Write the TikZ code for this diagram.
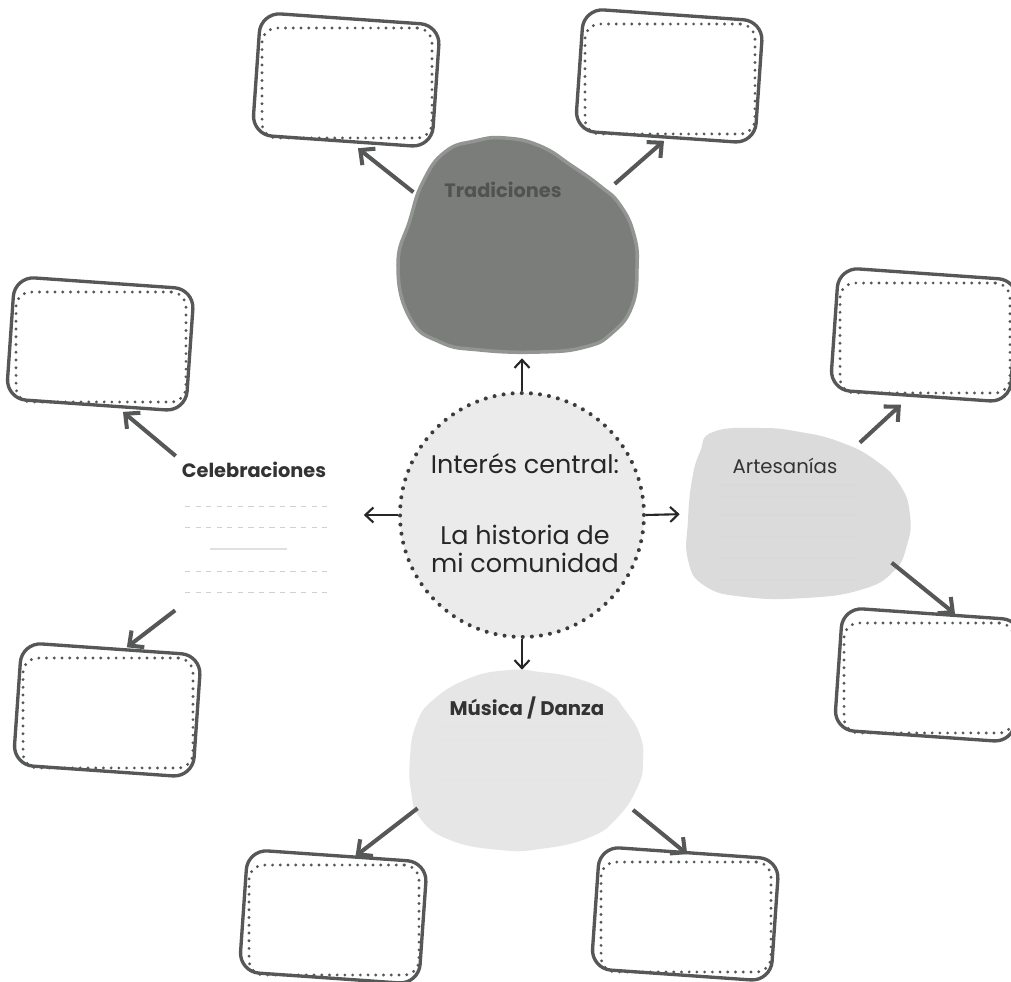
\documentclass[tikz,border=0pt]{standalone}
\usepackage{fontspec}
\setmainfont{Poppins}
\usetikzlibrary{arrows.meta,shapes.geometric}

\definecolor{tinta}{HTML}{555857}
\definecolor{puntos}{HTML}{3C3C3C}
\definecolor{roca}{HTML}{7B7D7B}
\definecolor{borde}{HTML}{939593}
\definecolor{arena}{HTML}{DADBDA}
\definecolor{niebla}{HTML}{E6E6E6}
\definecolor{nube}{HTML}{EBEBEB}

\begin{document}
\begin{tikzpicture}[
		x=0.02cm, y=-0.02cm,
		ficha/.style={rectangle, draw=tinta, line width=1.8pt, dash pattern=on 0pt off 4.4pt, line cap=round, rounded corners=0.3cm, minimum width=3.4cm, minimum height=2.2cm, inner sep=0pt},
		marco/.style={rectangle, draw=tinta, line width=1.9pt, rounded corners=0.4cm, minimum width=3.6cm, minimum height=2.45cm, rotate=-4, xshift=-0.02cm, yshift=0.06cm, inner sep=0pt},
		zona/.style={ellipse, inner sep=0pt},
		titulo/.style={font=\bfseries\fontsize{10.5}{12}\selectfont, text=black!80},
		flecha/.style={draw=tinta, line width=2.3pt, -{Straight Barb[length=0.22cm,width=0.42cm]}},
		flechita/.style={draw=black!85, line width=1.2pt, -{Straight Barb[length=0.16cm,width=0.3cm]}}
	]
	\fill[white] (0,0) rectangle (1011,982);
	\useasboundingbox (0,0) rectangle (1011,982);

	% Manchas
	\filldraw[fill=roca, draw=borde, line width=2pt] plot[smooth cycle, tension=0.8] coordinates {(505,138) (540,146) (572,166) (600,186) (620,205) (634,235) (637,268) (632,306) (612,333) (585,347) (540,352) (480,350) (440,342) (410,318) (398,265) (410,220) (423,182) (445,152) (475,141)};
	\fill[arena] plot[smooth cycle, tension=0.8] coordinates {(713,432) (760,428) (800,432) (840,442) (875,460) (900,485) (910,515) (907,545) (893,572) (860,590) (805,598) (745,597) (705,586) (688,560) (688,520) (692,480) (700,452)};
	\fill[niebla] plot[smooth cycle, tension=0.8] coordinates {(510,670) (540,672) (575,678) (608,692) (625,710) (640,735) (643,760) (638,786) (617,818) (588,838) (540,849) (500,850) (450,840) (420,818) (411,790) (410,758) (416,725) (433,700) (470,678)};
	\foreach \y in {485,497,515,537,558,580}
		\draw[black!15, line width=0.6pt] (718,\y) -- (857,\y);
	\foreach \y in {727,740,760,780,800}
		\draw[black!10, line width=0.6pt] (440,\y) -- (610,\y);
	\foreach \y in {506,527,571,592}
		\draw[black!18, dashed, line width=0.5pt] (185,\y) -- (330,\y);
	\draw[black!12, line width=0.8pt] (210,549) -- (287,549);

	% Nodi
	\node[zona, minimum width=4.76cm, minimum height=4.24cm] (trad) at (517,245) {};
	\node[zona, minimum width=4.48cm, minimum height=3.36cm] (art) at (800,514) {};
	\node[zona, minimum width=5.12cm, minimum height=3.6cm] (mus) at (526,760) {};
	\node[rectangle, inner sep=0pt, minimum width=4.46cm, minimum height=3.4cm] (celebzona) at (252,525) {};

	\node[titulo, text=black!68, font=\bfseries\fontsize{11}{12}\selectfont] (tradtit) at (503,190) {Tradiciones};
	\node[titulo, font=\bfseries\fontsize{11}{12}\selectfont] (celeb) at (254,470) {Celebraciones};
	\node[titulo, font=\fontsize{11.2}{12}\selectfont] (arttit) at (785,466) {Artesanías};
	\node[titulo, font=\bfseries\fontsize{11.2}{12}\selectfont] (mustit) at (527,708) {Música / Danza};

	\node[circle, draw=puntos, fill=nube, line width=2.3pt, dash pattern=on 0pt off 5.2pt, line cap=round, minimum size=4.88cm, inner sep=0pt] (centro) at (522,515) {};
	\node[align=center, text=black!85, font=\fontsize{14.5}{16}\selectfont] (centrotexto) at (525,513) {Interés central:\\[0.85cm]La historia de\\mi comunidad};

	\node[ficha] (tl) at (347,83) {};
	\node[marco] (tlm) at (tl) {};
	\node[ficha] (tr) at (670,79) {};
	\node[marco] (trm) at (tr) {};
	\node[ficha] (l1) at (101,347) {};
	\node[marco] (l1m) at (l1) {};
	\node[ficha] (l2) at (108,713) {};
	\node[marco] (l2m) at (l2) {};
	\node[ficha] (r1) at (925,338) {};
	\node[marco] (r1m) at (r1) {};
	\node[ficha] (r2) at (929,678) {};
	\node[marco] (r2m) at (r2) {};
	\node[ficha] (bl) at (334,920) {};
	\node[marco] (blm) at (bl) {};
	\node[ficha] (br) at (686,917) {};
	\node[marco] (brm) at (br) {};

	% Frecce
	\draw[flechita, shorten >=0.14cm] (centro.north) -- (centro.north |- trad.south);
	\draw[flechita, shorten >=0.16cm] (centro.east) -- (art.west);
	\draw[flechita] (centro.south) -- (centro.south |- mus.north);
	\draw[flechita] (centro.west) -- (centro.west -| celebzona.east);

	\draw[flecha, shorten >=0.28cm] (trad.153) -- (tl.south);
	\draw[flecha, shorten >=0.16cm] (trad.32) -- (tr.south);
	\draw[flecha, shorten >=0.26cm] (celeb.north west) -- (l1.-78);
	\draw[flecha, shorten >=0.3cm] (celebzona.228) -- (l2.83);
	\draw[flecha, shorten >=0.3cm] (art.50) -- (r1.-103);
	\draw[flecha, shorten >=0.24cm] (art.-28) -- (r2.58);
	\draw[flecha, shorten >=0.24cm] (mus.204) -- (bl.78);
	\draw[flecha, shorten >=0.2cm] (mus.-25) -- (br.81);
\end{tikzpicture}
\end{document}
